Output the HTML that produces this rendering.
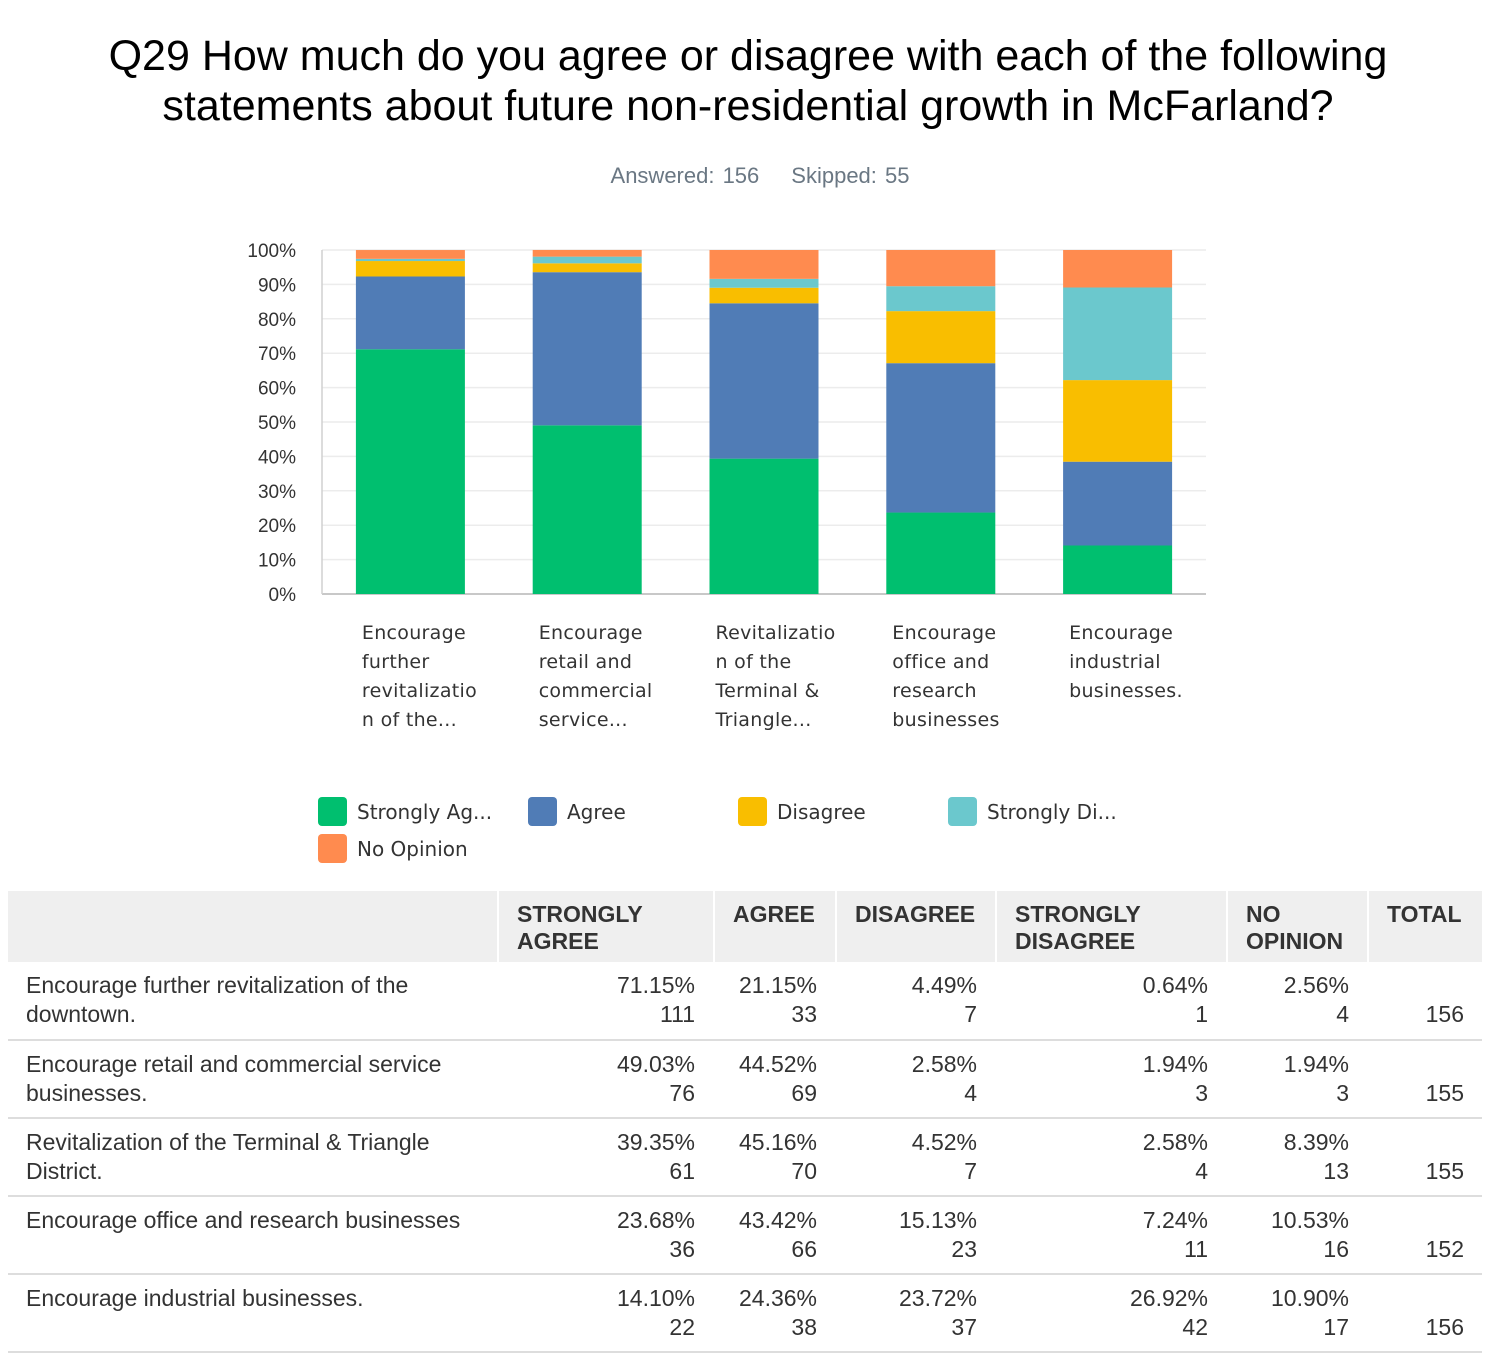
<!DOCTYPE html>
<html><head><meta charset="utf-8"><style>
body{margin:0;width:1503px;height:1365px;background:#fff;font-family:"Liberation Sans",sans-serif;position:relative;overflow:hidden;color:#333}
.title{position:absolute;left:0;width:1496px;top:31px;text-align:center;font-size:43px;line-height:50px;color:#000}
.ans{position:absolute;top:163px;left:0;width:1520px;text-align:center;font-size:22px;color:#6a7783;word-spacing:2px}
.ans span{margin:0 16px}
table{position:absolute;left:8px;top:891px;border-collapse:collapse;font-size:23px;table-layout:fixed}
th{background:#efefef;text-align:left;vertical-align:top;font-weight:bold;color:#333;padding:10px 10px 0 18px;height:71px;box-sizing:border-box;line-height:27px;border-left:2px solid #fff;font-size:23px}
td{height:78px;box-sizing:border-box;border-bottom:2px solid #ddd;vertical-align:top;padding:9px 18px 0 18px;line-height:29px;text-align:right;border-left:2px solid #fff}
td.l{text-align:left}
th:first-child,td:first-child{border-left:none}
</style></head><body>
<div class="title">Q29 How much do you agree or disagree with each of the following<br>statements about future non-residential growth in McFarland?</div>
<div class="ans"><span>Answered: 156</span><span>Skipped: 55</span></div>
<svg id="chart" width="1503" height="880" style="position:absolute;left:0;top:0"></svg>
<table>
<colgroup><col style="width:490px"><col style="width:216px"><col style="width:122px"><col style="width:160px"><col style="width:231px"><col style="width:141px"><col style="width:114px"></colgroup>
<tr><th></th><th>STRONGLY<br>AGREE</th><th>AGREE</th><th>DISAGREE</th><th>STRONGLY<br>DISAGREE</th><th>NO<br>OPINION</th><th>TOTAL</th></tr>
<tbody id="tb"></tbody>
</table>
<script>
const categories=["Encourage further revitalization of the downtown.","Encourage retail and commercial service businesses.","Revitalization of the Terminal & Triangle District.","Encourage office and research businesses","Encourage industrial businesses."];
const xLabels=[["Encourage","further","revitalizatio","n of the..."],["Encourage","retail and","commercial","service..."],["Revitalizatio","n of the","Terminal &","Triangle..."],["Encourage","office and","research","businesses"],["Encourage","industrial","businesses."]];
const seriesNames=["Strongly Agree","Agree","Disagree","Strongly Disagree","No Opinion"];
const legendLabels=["Strongly Ag...","Agree","Disagree","Strongly Di...","No Opinion"];
const colors=["#00bf6f","#507cb6","#f9be00","#6bc8cd","#ff8b4f"];
const stronglyAgree=[71.15,49.03,39.35,23.68,14.10];
const agree=[21.15,44.52,45.16,43.42,24.36];
const disagree=[4.49,2.58,4.52,15.13,23.72];
const stronglyDisagree=[0.64,1.94,2.58,7.24,26.92];
const noOpinion=[2.56,1.94,8.39,10.53,10.90];
const counts=[[111,33,7,1,4],[76,69,4,3,3],[61,70,7,4,13],[36,66,23,11,16],[22,38,37,42,17]];
const totals=[156,155,155,152,156];
const yTicks=[0,10,20,30,40,50,60,70,80,90,100];
const series=[stronglyAgree,agree,disagree,stronglyDisagree,noOpinion];
const NS="http://www.w3.org/2000/svg";
const svg=document.getElementById('chart');
const X0=322,X1=1206,Y0=594,Y1=250;
const y=v=>Y0-(Y0-Y1)*v/100;
const band=(X1-X0)/categories.length,bw=109;
const xc=i=>X0+band*(i+0.5);
function mk(t,a){const e=document.createElementNS(NS,t);for(const k in a)e.setAttribute(k,a[k]);svg.appendChild(e);return e;}
yTicks.forEach(t=>{
 const l=mk('line',{x1:X0,x2:X1,y1:y(t),y2:y(t),stroke:t==0?'#c8c8c8':'#ececec','stroke-width':t==0?2:1.5});
 
 
 const tx=mk('text',{x:296,y:y(t)+7,'text-anchor':'end','font-size':19,fill:'#333','font-family':'Liberation Sans'});
 tx.textContent=t+'%';
 
 
});
mk('line',{x1:X0,x2:X0,y1:Y1,y2:Y0,stroke:'#d0d0d0','stroke-width':1.5});
categories.forEach((c,i)=>{
 let acc=0;
 series.forEach((s,j)=>{
  const v=s[i];
  const r=mk('rect',{x:xc(i)-bw/2,width:bw,y:y(acc+v),height:y(acc)-y(acc+v),fill:colors[j]});
  
  
  acc+=v;
 });
 xLabels[i].forEach((ln,k)=>{
  const t=mk('text',{x:xc(i)-bw/2+6,y:639+k*29,'font-size':19,fill:'#333','font-family':'DejaVu Sans','letter-spacing':'0.3'});
  t.textContent=ln;
  
  
 });
});
legendLabels.forEach((n,j)=>{
 const lx=318+(j%4)*210, ly=797+Math.floor(j/4)*37;
 const r=mk('rect',{x:lx,y:ly,width:29,height:29,rx:4,fill:colors[j]});
 
 
 const t=mk('text',{x:lx+39,y:ly+22,'font-size':20,fill:'#333','font-family':'DejaVu Sans'});
 t.textContent=n;
 
 
});
const tb=document.getElementById('tb');
categories.forEach((c,i)=>{
 const tr=document.createElement('tr');
 
 
 let h='<td class="l">'+c.replace('&','&amp;')+'</td>';
 series.forEach((s,j)=>{h+='<td>'+s[i].toFixed(2)+'%<br>'+counts[i][j]+'</td>';});
 h+='<td><br>'+totals[i]+'</td>';
 tr.innerHTML=h;tb.appendChild(tr);
});
</script>
</body></html>
